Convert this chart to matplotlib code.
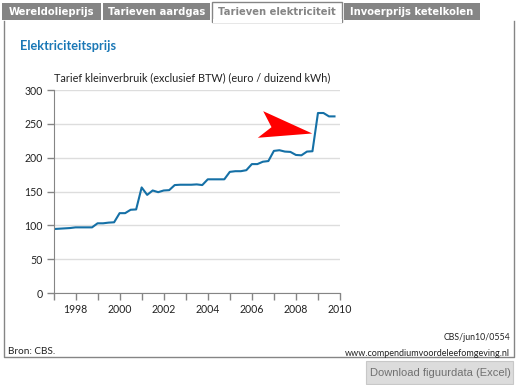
import matplotlib
matplotlib.use("Agg")
import matplotlib.pyplot as plt
from matplotlib.patches import Rectangle, Polygon
from matplotlib.lines import Line2D
from matplotlib.ticker import MultipleLocator
import numpy as np

# Tarief kleinverbruik elektriciteit, per kwartaal (euro / duizend kWh)
years = np.arange(1997, 2010, 0.25)
prices = [
    94.5, 95, 95.5, 96,
    97, 97, 97, 97,
    103, 103, 104, 104.5,
    118, 118, 123, 123.5,
    156, 145, 151.5, 149,
    151.5, 152, 159.5, 160,
    160, 160, 160.5, 159.5,
    168, 168, 168, 168,
    179, 180, 180, 181.5,
    190.5, 190.5, 194, 195,
    210, 211, 209, 208.5,
    204, 203.5, 209, 209.5,
    266, 266, 261, 261,
]

tabs = ["Wereldolieprijs", "Tarieven aardgas", "Tarieven elektriciteit", "Invoerprijs ketelkolen"]
active_tab = 2
title = "Elektriciteitsprijs"
ylabel = "Tarief kleinverbruik (exclusief BTW) (euro / duizend kWh)"
source = "Bron: CBS."
code = "CBS/jun10/0554"
site = "www.compendiumvoordeleefomgeving.nl"
button = "Download figuurdata (Excel)"

W, H = 516, 385
fig = plt.figure(figsize=(W / 100, H / 100), dpi=100)
fig.patch.set_facecolor("white")

grey = "#858585"
blue_line = "#1570a6"
blue_title = "#1b78b6"
font = "Lato"


def fx(x):
    return x / W


def fy(y):
    return 1 - y / H


def rect(x0, y0, x1, y1, **kw):
    fig.add_artist(Rectangle((fx(x0), fy(y1)), fx(x1 - x0), (y1 - y0) / H,
                             transform=fig.transFigure, **kw))


def line(xs, ys, **kw):
    fig.add_artist(Line2D([fx(x) for x in xs], [fy(y) for y in ys],
                          transform=fig.transFigure, **kw))


# tabs
tab_edges = [(2, 101), (103, 210), (212, 342), (344, 480)]
for i, (name, (x0, x1)) in enumerate(zip(tabs, tab_edges)):
    if i == active_tab:
        rect(x0, 2, x1, 22, facecolor="white", edgecolor=grey, lw=1)
        col = grey
    else:
        rect(x0, 3, x1, 20, facecolor=grey, edgecolor="none")
        col = "white"
    fig.text(fx((x0 + x1) / 2), fy(12), name, ha="center", va="center",
             color=col, fontsize=7.2, fontweight="bold", family="DejaVu Sans")

# panel border
line([3.5, 3.5, 513.5, 513.5], [21, 357, 357, 21], color=grey, lw=1)
rect(212.5, 19, 341.5, 23, facecolor="white", edgecolor="none")

# download button
rect(366, 361, 513, 384, facecolor="#dcdcdc", edgecolor="#c8c8c8", lw=0.8)
fig.text(fx(440), fy(373), button, ha="center", va="center",
         color="#707070", fontsize=8, family="Liberation Sans")

# titles and sources
fig.text(fx(20), fy(46), title, ha="left", va="center", color=blue_title,
         fontsize=9.2, fontweight="bold", family=font)
fig.text(fx(54), fy(78), ylabel, ha="left", va="center", color="#222222",
         fontsize=7.8, family=font)
fig.text(fx(8), fy(352), source, ha="left", va="center", color="#222222",
         fontsize=7.2, family=font)
fig.text(fx(510), fy(338), code, ha="right", va="center", color="#222222",
         fontsize=6.3, family=font)
fig.text(fx(510), fy(353), site, ha="right", va="center", color="#222222",
         fontsize=6.5, family=font)

# chart
ax = fig.add_axes([fx(53.5), fy(293), fx(340 - 53.5), (293 - 90) / H])
ax.plot(years, prices, color=blue_line, lw=1.5, solid_joinstyle="round")
ax.set_xlim(1997, 2010)
ax.set_ylim(0, 300)
ax.xaxis.set_major_locator(MultipleLocator(2))
ax.xaxis.set_minor_locator(MultipleLocator(1))
ax.yaxis.set_major_locator(MultipleLocator(50))
ax.grid(axis="y", color="#dddddd", lw=1)
ax.set_axisbelow(True)
for s in ["top", "right"]:
    ax.spines[s].set_visible(False)
for s in ["left", "bottom"]:
    ax.spines[s].set_color(grey)
ax.tick_params(axis="both", which="both", color=grey, direction="out",
               length=5, width=1, labelsize=7.6, labelcolor="#222222", pad=3)
for lab in ax.get_xticklabels() + ax.get_yticklabels():
    lab.set_family(font)

# red arrow pointing at the 2009 jump
i_jump = int(np.argmax(np.diff(prices)))
tip_x = (years[i_jump] + years[i_jump + 1]) / 2
tip_y = (prices[i_jump] + prices[i_jump + 1]) / 2
tip = ax.transData.transform((tip_x, tip_y - 2)) - np.array([3, 0])
offsets = np.array([[0, 0], [-49, 22.3], [-40.7, 6.3], [-54.4, -4.3]])
pts = tip + offsets
arrow = Polygon(fig.transFigure.inverted().transform(pts), closed=True,
                transform=fig.transFigure, facecolor="#ff0000", edgecolor="none")
fig.add_artist(arrow)

fig.savefig("out.png", dpi=100)
